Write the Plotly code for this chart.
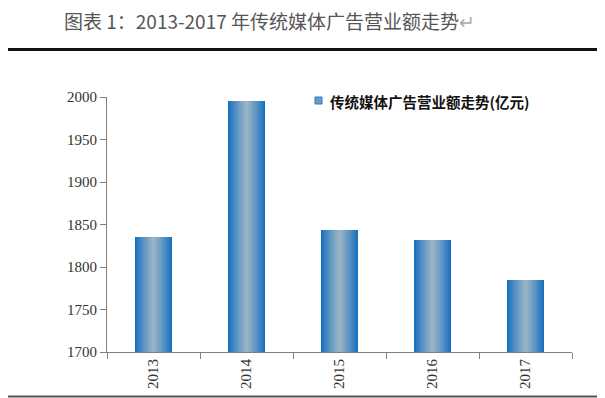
import plotly.graph_objects as go

# ---- data ----
years = ["2013", "2014", "2015", "2016", "2017"]
revenue = [1835, 1995, 1844, 1832, 1785]
series_name = "传统媒体广告营业额走势(亿元)"
title_text = "图表 1：2013-2017 年传统媒体广告营业额走势"
y_ticks = [1700, 1750, 1800, 1850, 1900, 1950, 2000]

W, H = 605, 398
OFF = 8  # page body margin
def px(x):
    return (x - OFF) / W
def py(y):
    return 1 - (y - OFF) / H

edge = (22, 112, 192)
center = (151, 179, 198)
N = 18
BAR_W = 0.4

fig = go.Figure()
for k in range(N):
    t = (k / (N - 1)) ** 0.9
    c = tuple(round(edge[i] + (center[i] - edge[i]) * t) for i in range(3))
    w = BAR_W * (1 - k / N)
    fig.add_trace(go.Bar(
        x=years, y=revenue, width=w,
        marker=dict(color="rgb(%d,%d,%d)" % c, line=dict(width=0)),
        name=series_name, showlegend=False, hoverinfo="x+y",
    ))

tick_font = dict(family="Liberation Serif, DejaVu Serif, serif", size=15, color="#333")

fig.update_layout(
    template="none",
    width=W, height=H, autosize=False,
    margin=dict(l=0, r=0, t=0, b=0, pad=0, autoexpand=False),
    paper_bgcolor="white", plot_bgcolor="white",
    barmode="overlay", bargap=0,
    showlegend=False,
    xaxis=dict(
        domain=[px(107), px(572)],
        type="category", automargin=False,
        showline=True, linecolor="#808080", linewidth=1,
        ticks="outside", ticklen=6, tickcolor="#808080",
        tickson="boundaries",
        tickangle=-90, tickfont=tick_font,
        showgrid=False, zeroline=False,
        range=[-0.5, 4.5],
    ),
    yaxis=dict(
        domain=[py(352), py(97)],
        range=[1700, 2000], automargin=False,
        tickvals=y_ticks,
        showline=True, linecolor="#808080", linewidth=1,
        ticks="outside", ticklen=6, tickcolor="#808080",
        tickfont=tick_font,
        showgrid=False, zeroline=False,
    ),
    font=dict(family="Noto Sans CJK SC"),
)

# header and separator lines
fig.add_shape(type="line", xref="paper", yref="paper", x0=-0.05, x1=1.05,
              y0=py(49.5), y1=py(49.5), line=dict(color="#111", width=3))
fig.add_shape(type="line", xref="paper", yref="paper", x0=-0.05, x1=1.05,
              y0=py(396.5), y1=py(396.5), line=dict(color="#555", width=2))

fig.add_annotation(
    x=px(62), y=py(20), xref="paper", yref="paper",
    xanchor="left", yanchor="middle", showarrow=False,
    text=title_text + "<span style='color:#aaa'>↵</span>",
    font=dict(family="Noto Sans CJK SC", size=19, color="#555"),
)

# legend
fig.add_shape(type="rect", xref="paper", yref="paper",
              x0=px(315), x1=px(322), y0=py(104), y1=py(97),
              fillcolor="#6a9cc6", line=dict(color="#2f7ac0", width=1))
fig.add_annotation(
    x=px(328), y=py(101), xref="paper", yref="paper",
    xanchor="left", yanchor="middle", showarrow=False,
    text="<b>" + series_name + "</b>",
    font=dict(family="Noto Sans CJK SC", size=14.5, color="#111"),
)

fig.write_html("out.html")
